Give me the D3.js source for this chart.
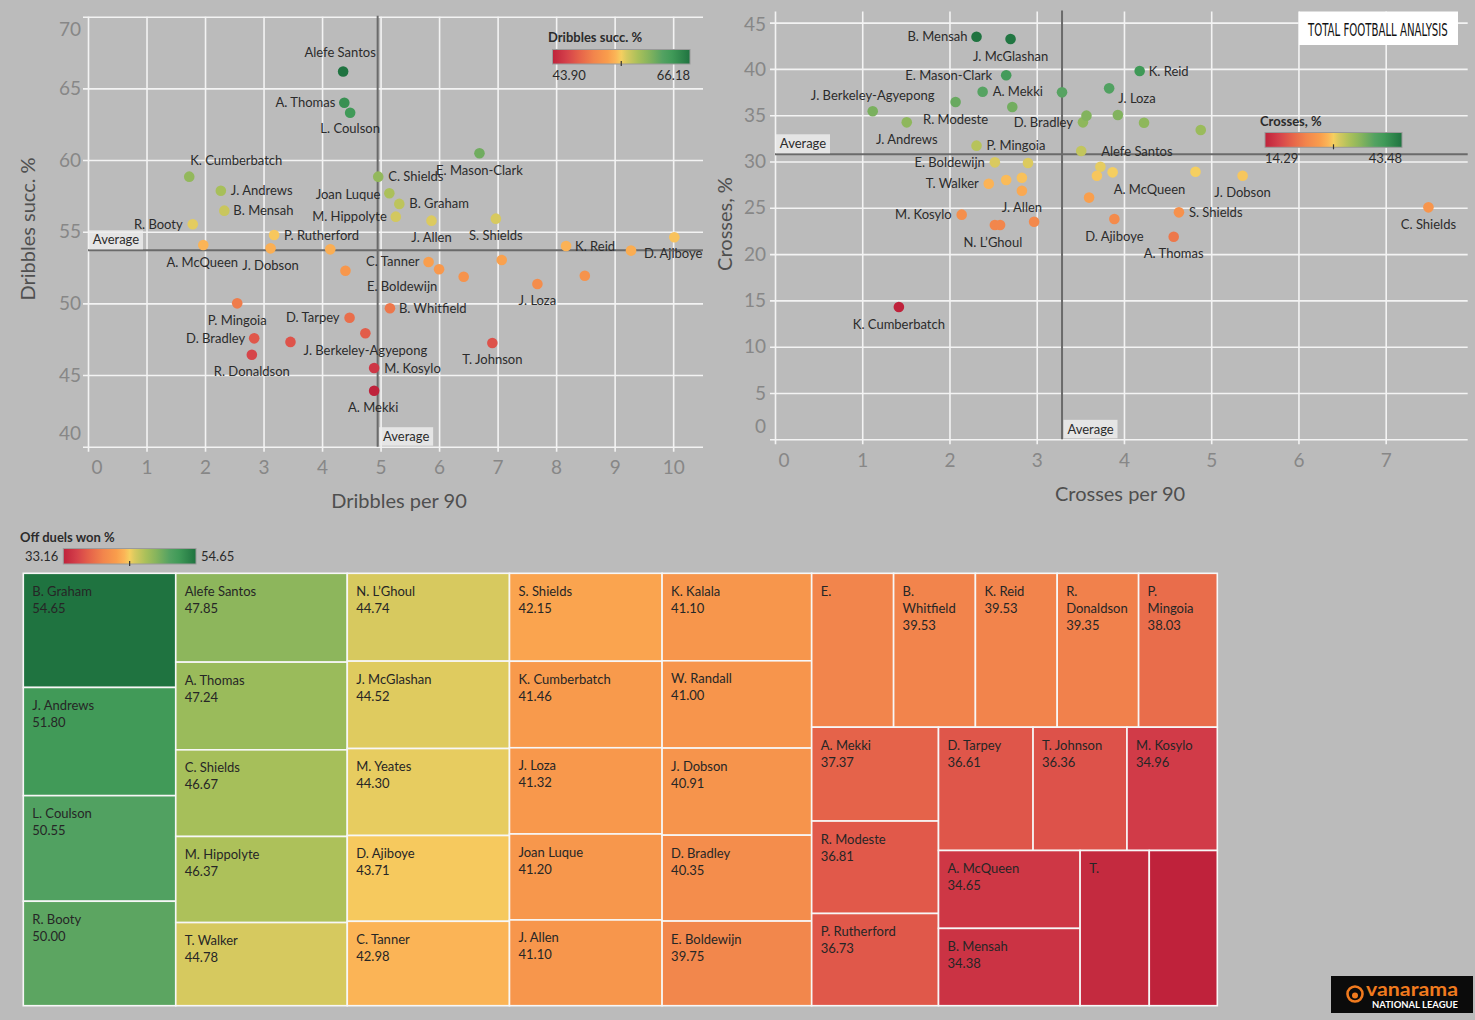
<!DOCTYPE html>
<html>
<head>
<meta charset="utf-8">
<script src="https://cdn.jsdelivr.net/npm/d3@7"></script>
<style>
html,body{margin:0;padding:0;background:#bbbbbb;}
svg{display:block;}
</style>
</head>
<body>
<svg id="chart" width="1475" height="1020"></svg>
<script>
// ---------------- DATA ----------------
// Chart 1: Dribbles per 90 vs Dribbles succ. %
const dribPlayers = ["Alefe Santos","A. Thomas","L. Coulson","K. Cumberbatch","J. Andrews","B. Mensah","R. Booty","P. Rutherford","A. McQueen","J. Dobson","","","P. Mingoia","D. Tarpey","J. Berkeley-Agyepong","D. Bradley","","R. Donaldson","M. Kosylo","A. Mekki","E. Mason-Clark","C. Shields","Joan Luque","B. Graham","M. Hippolyte","J. Allen","S. Shields","","D. Ajiboye","K. Reid","C. Tanner","","E. Boldewijn","","","J. Loza","B. Whitfield","T. Johnson"];
const dribPer90 = [4.36,4.38,4.48,1.73,2.27,2.33,1.79,3.18,1.97,3.12,4.14,4.40,2.55,4.47,4.74,2.84,3.46,2.80,4.89,4.89,6.69,4.96,5.15,5.32,5.26,5.87,6.97,10.02,9.28,8.17,5.82,7.07,6.00,6.42,8.49,7.68,5.16,6.91];
const dribSucc = [66.18,64.00,63.30,58.84,57.86,56.47,55.52,54.77,54.07,53.84,53.77,52.28,50.00,49.00,47.91,47.56,47.31,46.42,45.49,43.90,60.47,58.84,57.68,56.94,56.05,55.77,55.91,54.61,53.68,54.00,52.89,53.03,52.38,51.86,51.93,51.35,49.66,47.24];
const dribTicksX = [0,1,2,3,4,5,6,7,8,9,10];
const dribTicksY = [40,45,50,55,60,65,70];
const dribAvgPer90 = 4.95;
const dribAvgSucc = 53.7;

// Chart 2: Crosses per 90 vs Crosses, %
const crossPlayers = ["B. Mensah","J. McGlashan","E. Mason-Clark","A. Mekki","","J. Berkeley-Agyepong","J. Andrews","R. Modeste","","D. Bradley","","P. Mingoia","E. Boldewijn","","Alefe Santos","T. Walker","","","J. Allen","M. Kosylo","N. L’Ghoul","","","K. Reid","J. Loza","","","","","","A. McQueen","","J. Dobson","","S. Shields","D. Ajiboye","A. Thomas","C. Shields","K. Cumberbatch"];
const crossPer90 = [2.31,2.70,2.65,2.38,3.29,1.12,1.51,2.07,2.72,3.53,3.57,2.31,2.52,2.90,3.51,2.45,2.65,2.83,2.83,2.14,2.52,2.58,2.97,4.18,3.83,3.93,4.23,4.88,3.73,3.69,3.87,4.82,5.36,3.60,4.63,3.89,4.57,7.49,1.42];
const crossPct = [43.48,43.23,39.31,37.54,37.47,35.42,34.23,36.43,35.89,34.23,34.95,31.71,29.91,29.84,31.13,27.60,28.00,28.25,26.85,24.26,23.14,23.14,23.50,39.77,37.90,35.02,34.19,33.40,29.44,28.47,28.83,28.90,28.47,26.10,24.51,23.79,21.88,25.05,14.29];
const crossTicksX = [0,1,2,3,4,5,6,7];
const crossTicksY = [0,5,10,15,20,25,30,35,40,45];
const crossAvgPer90 = 3.29;
const crossAvgPct = 30.78;

// Chart 3: Off duels won % (treemap, size = value)
const tmNames = ["B. Graham","J. Andrews","L. Coulson","R. Booty","Alefe Santos","A. Thomas","C. Shields","M. Hippolyte","T. Walker","N. L’Ghoul","J. McGlashan","M. Yeates","D. Ajiboye","C. Tanner","S. Shields","K. Cumberbatch","J. Loza","Joan Luque","J. Allen","K. Kalala","W. Randall","J. Dobson","D. Bradley","E. Boldewijn","E. Mason-Clark","B. Whitfield","K. Reid","R. Donaldson","P. Mingoia","A. Mekki","R. Modeste","P. Rutherford","D. Tarpey","T. Johnson","M. Kosylo","A. McQueen","B. Mensah","T.",""];
const tmValues = [54.65,51.80,50.55,50.00,47.85,47.24,46.67,46.37,44.78,44.74,44.52,44.30,43.71,42.98,42.15,41.46,41.32,41.20,41.10,41.10,41.00,40.91,40.35,39.75,39.60,39.53,39.53,39.35,38.03,37.37,36.81,36.73,36.61,36.36,34.96,34.65,34.38,33.70,33.16];

// ---------------- STYLE ----------------
const FONT = "Lato, 'Open Sans', sans-serif";
const paletteStops  = [0, 0.1, 0.2, 0.3, 0.4, 0.46, 0.5, 0.54, 0.62, 0.7, 0.8, 0.87, 1];
const paletteColors = ["#bf223b","#d4404a","#e6644a","#f2854c","#f99d4c","#fbb557","#f5cf60","#d6c95f","#aac05a","#86b45d","#54a262","#409a58","#1f7340"];

// label placement: [anchor, dx, dy]
const dribLabelPos = {
  "Alefe Santos":["m",-3,-19], "A. Thomas":["e",-9,0], "L. Coulson":["m",0,16], "K. Cumberbatch":["m",47,-16],
  "J. Andrews":["s",10,0], "B. Mensah":["s",9,0], "R. Booty":["e",-10,0], "P. Rutherford":["s",10,0],
  "A. McQueen":["m",-1,17], "J. Dobson":["m",0,17], "P. Mingoia":["m",0,17], "D. Tarpey":["e",-10,0],
  "J. Berkeley-Agyepong":["m",0,17], "D. Bradley":["e",-9,0], "R. Donaldson":["m",0,17], "M. Kosylo":["s",10,0],
  "A. Mekki":["m",-1,17], "E. Mason-Clark":["m",0,17], "C. Shields":["s",10,0], "Joan Luque":["e",-9,1],
  "B. Graham":["s",10,0], "M. Hippolyte":["e",-9,0], "J. Allen":["m",0,17], "S. Shields":["m",0,17],
  "D. Ajiboye":["s",13,3], "K. Reid":["s",9,0], "C. Tanner":["e",-9,0], "E. Boldewijn":["m",-37,17],
  "J. Loza":["m",0,16], "B. Whitfield":["s",9,0], "T. Johnson":["m",0,17]
};
const crossLabelPos = {
  "B. Mensah":["e",-9,0], "J. McGlashan":["m",0,17], "E. Mason-Clark":["e",-14,0], "A. Mekki":["s",10,0],
  "J. Berkeley-Agyepong":["m",0,-16], "J. Andrews":["m",0,17], "R. Modeste":["m",0,17], "D. Bradley":["e",-10,0],
  "P. Mingoia":["s",10,0], "E. Boldewijn":["e",-10,0], "Alefe Santos":["s",20,0], "T. Walker":["e",-10,0],
  "J. Allen":["m",0,17], "M. Kosylo":["e",-10,0], "N. L’Ghoul":["m",-2,17], "K. Reid":["s",9,0],
  "J. Loza":["s",9,10], "A. McQueen":["s",1,17], "J. Dobson":["m",0,17], "S. Shields":["s",10,0],
  "D. Ajiboye":["m",0,17], "A. Thomas":["m",0,17], "C. Shields":["m",0,17], "K. Cumberbatch":["m",0,17]
};

const svg = d3.select("#chart").attr("font-family", FONT);
svg.append("rect").attr("width",1475).attr("height",1020).attr("fill","#bbbbbb");
const defs = svg.append("defs");

function makeColor(min, max) {
  return d3.scaleLinear()
    .domain(paletteStops.map(t => min + t * (max - min)))
    .range(paletteColors)
    .interpolate(d3.interpolateRgb)
    .clamp(true);
}

let gradCount = 0;
function drawLegend(c) {
  const id = "grad" + (gradCount++);
  const lg = defs.append("linearGradient").attr("id", id).attr("x1","0%").attr("x2","100%");
  paletteStops.forEach((t, i) => lg.append("stop").attr("offset", (t*100)+"%").attr("stop-color", paletteColors[i]));
  const g = svg.append("g");
  g.append("text").attr("x", c.titleX).attr("y", c.titleY).attr("font-size", 13).attr("font-weight", 700)
    .attr("fill", "#2b2b2b").text(c.title);
  g.append("rect").attr("x", c.x0).attr("y", c.y0).attr("width", c.x1 - c.x0).attr("height", c.y1 - c.y0)
    .attr("fill", `url(#${id})`).attr("stroke", "#9a9a9a").attr("stroke-width", 1);
  const mid = (c.x0 + c.x1) / 2;
  g.append("line").attr("x1", mid).attr("x2", mid).attr("y1", c.y1 - 3).attr("y2", c.y1 + 2)
    .attr("stroke", "#333").attr("stroke-width", 1.2);
  const fmt = d3.format(".2f");
  if (c.side) {
    const cy = (c.y0 + c.y1) / 2;
    g.append("text").attr("x", c.x0 - 5).attr("y", cy).attr("dy","0.35em").attr("text-anchor","end")
      .attr("font-size", 13).attr("fill","#2b2b2b").text(fmt(c.min));
    g.append("text").attr("x", c.x1 + 5).attr("y", cy).attr("dy","0.35em").attr("text-anchor","start")
      .attr("font-size", 13).attr("fill","#2b2b2b").text(fmt(c.max));
  } else {
    g.append("text").attr("x", c.x0).attr("y", c.y1 + 11).attr("dy","0.35em").attr("text-anchor","start")
      .attr("font-size", 13).attr("fill","#2b2b2b").text(fmt(c.min));
    g.append("text").attr("x", c.x1).attr("y", c.y1 + 11).attr("dy","0.35em").attr("text-anchor","end")
      .attr("font-size", 13).attr("fill","#2b2b2b").text(fmt(c.max));
  }
}

function drawScatter(c) {
  const x = d3.scaleLinear().domain(c.xDomain).range([c.left, c.right]);
  const y = d3.scaleLinear().domain(c.yDomain).range([c.bottom, c.top]);
  const cmin = d3.min(c.ys), cmax = d3.max(c.ys);
  const color = makeColor(cmin, cmax);
  const g = svg.append("g");

  // x axis / vertical grid
  const gx = g.append("g").attr("transform", `translate(0,${c.bottom + 5})`)
    .call(d3.axisBottom(x).tickValues(c.xTicks).tickFormat(d3.format("d"))
      .tickSize(-(c.bottom + 5 - c.top)).tickPadding(9));
  gx.select(".domain").remove();
  gx.selectAll(".tick line").attr("stroke", "#f3f3f3").attr("stroke-width", 1.6);
  gx.selectAll(".tick text").attr("fill", "#878787").attr("font-size", 19).attr("font-family", FONT)
    .attr("x", d => Math.max(0, c.left + 8.5 - x(d)));

  // y axis / horizontal grid
  const gy = g.append("g").attr("transform", `translate(${c.left - 5},0)`)
    .call(d3.axisLeft(y).tickValues(c.yTicks).tickFormat(d3.format("d"))
      .tickSize(-(c.right - c.left + 5)).tickPadding(c.yPad));
  gy.select(".domain").remove();
  gy.selectAll(".tick line").attr("stroke", "#f3f3f3").attr("stroke-width", 1.6);
  gy.selectAll(".tick text").attr("fill", "#878787").attr("font-size", 19).attr("font-family", FONT)
    .attr("y", d => {
      const p = y(d);
      if (p < c.top + 13) return c.top + 13 - p;
      if (p > c.bottom - 13) return c.bottom - 13 - p;
      return 0;
    });

  // axis titles
  g.append("text").attr("x", (c.left + c.right) / 2 + c.xTitleDx).attr("y", c.xTitleY).attr("dy","0.35em")
    .attr("text-anchor","middle").attr("font-size", 20).attr("fill","#4f4f4f").text(c.xTitle);
  g.append("text").attr("transform", `translate(${c.yTitleX},${c.yTitleY}) rotate(-90)`).attr("dy","0.35em")
    .attr("text-anchor","middle").attr("font-size", 20).attr("fill","#4f4f4f").text(c.yTitle);

  // average reference lines
  const ax = x(c.avgX), ay = y(c.avgY);
  g.append("line").attr("x1", ax).attr("x2", ax).attr("y1", c.top - 1).attr("y2", c.bottom)
    .attr("stroke", "#6a6a6a").attr("stroke-width", 2);
  g.append("line").attr("x1", c.left).attr("x2", c.right).attr("y1", ay).attr("y2", ay)
    .attr("stroke", "#6a6a6a").attr("stroke-width", 2);

  // points
  const idx = d3.range(c.xs.length);
  g.append("g").selectAll("circle").data(idx).join("circle")
    .attr("cx", i => x(c.xs[i])).attr("cy", i => y(c.ys[i])).attr("r", 5.3)
    .attr("fill", i => color(c.ys[i]));

  // point labels
  const anchors = {s:"start", m:"middle", e:"end"};
  const lab = idx.filter(i => c.names[i] && c.labelPos[c.names[i]]);
  g.append("g").selectAll("text").data(lab).join("text")
    .attr("x", i => x(c.xs[i]) + c.labelPos[c.names[i]][1])
    .attr("y", i => y(c.ys[i]) + c.labelPos[c.names[i]][2])
    .attr("dy", "0.35em")
    .attr("text-anchor", i => anchors[c.labelPos[c.names[i]][0]])
    .attr("font-size", 13).attr("fill", "#2b2b2b")
    .text(i => c.names[i]);

  // "Average" tags
  g.append("rect").attr("x", c.left + 1).attr("y", ay - 20).attr("width", 54).attr("height", 19)
    .attr("fill", "#ececec").attr("fill-opacity", 0.85);
  g.append("text").attr("x", c.left + 28).attr("y", ay - 10.5).attr("dy","0.35em").attr("text-anchor","middle")
    .attr("font-size", 13).attr("fill", "#2b2b2b").text("Average");
  g.append("rect").attr("x", ax + 1.5).attr("y", c.bottom - 19.5).attr("width", 54).attr("height", 18.5)
    .attr("fill", "#ececec").attr("fill-opacity", 0.85);
  g.append("text").attr("x", ax + 28.5).attr("y", c.bottom - 10).attr("dy","0.35em").attr("text-anchor","middle")
    .attr("font-size", 13).attr("fill", "#2b2b2b").text("Average");

  drawLegend(Object.assign({min: cmin, max: cmax}, c.legend));
}

// ---------------- Chart 1 ----------------
drawScatter({
  names: dribPlayers, xs: dribPer90, ys: dribSucc, labelPos: dribLabelPos,
  xDomain: [0, 10.51], yDomain: [40, 70], xTicks: dribTicksX, yTicks: dribTicksY,
  left: 88, right: 703, top: 16.7, bottom: 446.7, yPad: 2,
  avgX: dribAvgPer90, avgY: dribAvgSucc,
  xTitle: "Dribbles per 90", xTitleDx: 3.5, xTitleY: 501,
  yTitle: "Dribbles succ. %", yTitleX: 28, yTitleY: 229,
  legend: {title: "Dribbles succ. %", titleX: 548, titleY: 41.5, x0: 552.5, x1: 690, y0: 49.5, y1: 64}
});

// ---------------- Chart 2 ----------------
drawScatter({
  names: crossPlayers, xs: crossPer90, ys: crossPct, labelPos: crossLabelPos,
  xDomain: [0, 7.94], yDomain: [0, 46.2], xTicks: crossTicksX, yTicks: crossTicksY,
  left: 775, right: 1467.7, top: 11.5, bottom: 439.3, yPad: 4,
  avgX: crossAvgPer90, avgY: crossAvgPct,
  xTitle: "Crosses per 90", xTitleDx: -1.3, xTitleY: 494,
  yTitle: "Crosses, %", yTitleX: 725, yTitleY: 224,
  legend: {title: "Crosses, %", titleX: 1260, titleY: 125.5, x0: 1265, x1: 1402, y0: 132.5, y1: 147.3}
});

// ---------------- Treemap ----------------
function squarifyTile(ratio, tol) {
  return function(parent, x0, y0, x1, y1) {
    const nodes = parent.children, n = nodes.length;
    let i0 = 0, i1 = 0, value = parent.value;
    while (i0 < n) {
      const dx = x1 - x0, dy = y1 - y0;
      let sumValue;
      do sumValue = nodes[i1++].value; while (!sumValue && i1 < n);
      let minValue = sumValue, maxValue = sumValue;
      const alpha = Math.max(dy / dx, dx / dy) / (value * ratio);
      let beta = sumValue * sumValue * alpha;
      let minRatio = Math.max(maxValue / beta, beta / minValue);
      for (; i1 < n; ++i1) {
        const nv = nodes[i1].value;
        sumValue += nv;
        if (nv < minValue) minValue = nv;
        if (nv > maxValue) maxValue = nv;
        beta = sumValue * sumValue * alpha;
        const newRatio = Math.max(maxValue / beta, beta / minValue);
        if (newRatio > minRatio) { sumValue -= nv; break; }
        minRatio = newRatio;
      }
      const row = {children: nodes.slice(i0, i1), value: sumValue};
      if (dx < dy * tol) {
        const yy = value ? y0 + dy * sumValue / value : y1;
        d3.treemapDice(row, x0, y0, x1, yy); y0 = yy;
      } else {
        const xx = value ? x0 + dx * sumValue / value : x1;
        d3.treemapSlice(row, x0, y0, xx, y1); x0 = xx;
      }
      value -= sumValue; i0 = i1;
    }
  };
}

const TM = {x: 23.3, y: 573.3, w: 1194, h: 432.4};
const tmColor = makeColor(d3.min(tmValues), d3.max(tmValues));
const root = d3.hierarchy({children: tmNames.map((nm, i) => ({name: nm, value: tmValues[i]}))})
  .sum(d => d.value || 0);
d3.treemap().tile(squarifyTile((1 + Math.sqrt(5)) / 2, 1.01)).size([TM.w, TM.h]).round(false)(root);

const tg = svg.append("g").attr("transform", `translate(${TM.x},${TM.y})`);
const cells = tg.selectAll("g").data(root.leaves()).join("g")
  .attr("transform", d => `translate(${d.x0},${d.y0})`);
cells.append("rect").attr("width", d => d.x1 - d.x0).attr("height", d => d.y1 - d.y0)
  .attr("fill", d => tmColor(d.data.value)).attr("stroke", "#f7f7f7").attr("stroke-width", 1.6);

const measurer = svg.append("text").attr("font-size", 13).attr("visibility","hidden");
function textW(s) { measurer.text(s); return measurer.node().getComputedTextLength(); }
const fmt2 = d3.format(".2f");
cells.each(function(d) {
  const w = d.x1 - d.x0;
  const name = d.data.name;
  const words = name.split(" ").filter(Boolean);
  let lines = [], complete = true;
  if (words.length && textW(name) <= w - 30) {
    lines = [name];
  } else {
    for (const wd of words) {
      if (textW(wd) <= w - 16) lines.push(wd); else { complete = false; break; }
    }
  }
  if (complete && words.length > 1) lines.push(fmt2(d.data.value));
  const sel = d3.select(this);
  lines.forEach((ln, k) => {
    sel.append("text").attr("x", 9).attr("y", 18 + 17 * k).attr("dy", "0.35em")
      .attr("font-size", 13).attr("fill", "#262626").text(ln);
  });
});
measurer.remove();

drawLegend({title: "Off duels won %", titleX: 20, titleY: 541.5, x0: 63.3, x1: 196, y0: 548.5, y1: 564,
  min: d3.min(tmValues), max: d3.max(tmValues), side: true});

// ---------------- Logos ----------------
const tfa = svg.append("g").attr("transform", "translate(1299,11.5)");
tfa.append("rect").attr("width", 159).attr("height", 33.5).attr("fill", "#ffffff");
const tfaText = tfa.append("text").attr("x", 0).attr("y", 0)
  .attr("font-family", "'Liberation Sans Narrow','DejaVu Sans Condensed',sans-serif")
  .attr("font-size", 18).attr("fill", "#111").text("TOTAL FOOTBALL ANALYSIS");
const tfaW = tfaText.node().getComputedTextLength();
tfaText.attr("transform", `translate(9,24) scale(${Math.min(1, 140 / tfaW)},1)`);

const van = svg.append("g").attr("transform", "translate(1331,976)");
van.append("rect").attr("width", 142).attr("height", 37).attr("fill", "#0b0b0b");
van.append("circle").attr("cx", 24).attr("cy", 18).attr("r", 7.5).attr("fill", "none")
  .attr("stroke", "#f07a1e").attr("stroke-width", 2.6);
van.append("circle").attr("cx", 24).attr("cy", 19.5).attr("r", 3).attr("fill", "#f07a1e");
van.append("text").attr("x", 35).attr("y", 20).attr("font-size", 19).attr("font-weight", 700)
  .attr("fill", "#f07a1e").attr("textLength", 92).attr("lengthAdjust", "spacingAndGlyphs").text("vanarama");
van.append("text").attr("x", 41).attr("y", 31.5).attr("font-size", 8.5).attr("font-weight", 700)
  .attr("fill", "#ffffff").attr("textLength", 86).attr("lengthAdjust", "spacingAndGlyphs").text("NATIONAL LEAGUE");
</script>
</body>
</html>
